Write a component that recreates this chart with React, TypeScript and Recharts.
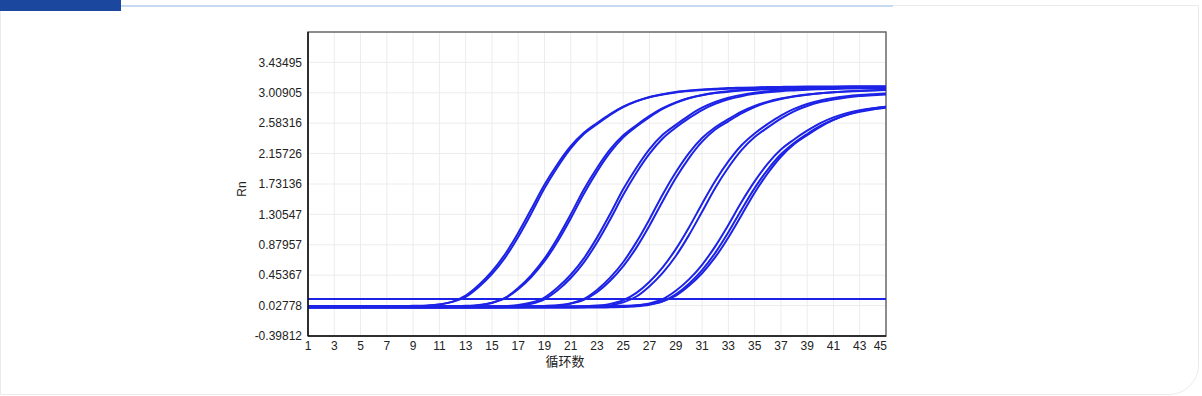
import React from "react";
import { LineChart, Line, XAxis, YAxis, CartesianGrid, ReferenceLine, ReferenceArea } from "recharts";

const cycles = [1, 2, 3, 4, 5, 6, 7, 8, 9, 10, 11, 12, 13, 14, 15, 16, 17, 18, 19, 20, 21, 22, 23, 24, 25, 26, 27, 28, 29, 30, 31, 32, 33, 34, 35, 36, 37, 38, 39, 40, 41, 42, 43, 44, 45];
const xTicks = [1, 3, 5, 7, 9, 11, 13, 15, 17, 19, 21, 23, 25, 27, 29, 31, 33, 35, 37, 39, 41, 43, 45];
const yTicks = [-0.39812, 0.02778, 0.45367, 0.87957, 1.30547, 1.73136, 2.15726, 2.58316, 3.00905, 3.43495];
const yTickLabels = ["-0.39812", "0.02778", "0.45367", "0.87957", "1.30547", "1.73136", "2.15726", "2.58316", "3.00905", "3.43495"];
const yMin = -0.39812;
const yMax = 3.86085;
const threshold = 0.12;

const a1 = [0.010, 0.010, 0.010, 0.010, 0.010, 0.010, 0.010, 0.011, 0.016, 0.023, 0.042, 0.084, 0.168, 0.316, 0.506, 0.748, 1.046, 1.380, 1.720, 2.012, 2.260, 2.448, 2.586, 2.712, 2.816, 2.892, 2.948, 2.986, 3.014, 3.033, 3.047, 3.057, 3.066, 3.071, 3.076, 3.080, 3.083, 3.085, 3.087, 3.088, 3.089, 3.090, 3.090, 3.090, 3.090];
const a2 = [0.020, 0.020, 0.020, 0.020, 0.020, 0.020, 0.020, 0.020, 0.025, 0.030, 0.045, 0.080, 0.150, 0.290, 0.470, 0.700, 0.990, 1.320, 1.670, 1.970, 2.230, 2.430, 2.570, 2.700, 2.810, 2.890, 2.950, 2.990, 3.020, 3.040, 3.055, 3.065, 3.075, 3.080, 3.085, 3.090, 3.092, 3.095, 3.097, 3.098, 3.099, 3.100, 3.100, 3.100, 3.100];
const b1 = [0.005, 0.005, 0.005, 0.005, 0.005, 0.005, 0.005, 0.005, 0.005, 0.005, 0.005, 0.010, 0.015, 0.030, 0.065, 0.135, 0.275, 0.455, 0.685, 0.975, 1.305, 1.655, 1.955, 2.215, 2.415, 2.555, 2.685, 2.795, 2.875, 2.935, 2.975, 3.005, 3.025, 3.040, 3.050, 3.060, 3.065, 3.070, 3.075, 3.077, 3.080, 3.082, 3.083, 3.084, 3.085];
const b2 = [0.015, 0.015, 0.015, 0.015, 0.015, 0.015, 0.015, 0.015, 0.015, 0.015, 0.015, 0.019, 0.024, 0.037, 0.068, 0.131, 0.257, 0.429, 0.649, 0.927, 1.249, 1.595, 1.905, 2.173, 2.385, 2.537, 2.669, 2.783, 2.869, 2.933, 2.977, 3.009, 3.031, 3.047, 3.058, 3.068, 3.074, 3.079, 3.084, 3.087, 3.090, 3.092, 3.093, 3.094, 3.095];
const c1 = [0.010, 0.010, 0.010, 0.010, 0.010, 0.010, 0.010, 0.010, 0.010, 0.010, 0.010, 0.010, 0.010, 0.010, 0.015, 0.020, 0.035, 0.070, 0.140, 0.280, 0.460, 0.690, 0.980, 1.310, 1.660, 1.960, 2.220, 2.420, 2.560, 2.690, 2.800, 2.880, 2.940, 2.980, 3.010, 3.030, 3.045, 3.055, 3.065, 3.070, 3.075, 3.080, 3.082, 3.085, 3.087];
const c2 = [0.000, 0.000, 0.000, 0.000, 0.000, 0.000, 0.000, 0.000, 0.000, 0.000, 0.000, 0.000, 0.000, 0.000, 0.004, 0.009, 0.022, 0.053, 0.116, 0.242, 0.414, 0.634, 0.912, 1.234, 1.580, 1.890, 2.158, 2.370, 2.522, 2.654, 2.768, 2.854, 2.918, 2.962, 2.994, 3.016, 3.032, 3.043, 3.053, 3.059, 3.064, 3.069, 3.072, 3.075, 3.077];
const d1 = [0.005, 0.005, 0.005, 0.005, 0.005, 0.005, 0.005, 0.005, 0.005, 0.005, 0.005, 0.005, 0.005, 0.005, 0.005, 0.005, 0.005, 0.009, 0.014, 0.027, 0.058, 0.121, 0.247, 0.419, 0.639, 0.917, 1.239, 1.585, 1.895, 2.163, 2.375, 2.527, 2.640, 2.745, 2.825, 2.885, 2.928, 2.960, 2.984, 3.002, 3.016, 3.027, 3.036, 3.043, 3.049];
const d2 = [0.015, 0.015, 0.015, 0.015, 0.015, 0.015, 0.015, 0.015, 0.015, 0.015, 0.015, 0.015, 0.015, 0.015, 0.015, 0.015, 0.015, 0.018, 0.023, 0.033, 0.058, 0.110, 0.215, 0.375, 0.580, 0.840, 1.150, 1.490, 1.815, 2.095, 2.325, 2.495, 2.610, 2.720, 2.810, 2.875, 2.922, 2.957, 2.983, 3.002, 3.017, 3.029, 3.038, 3.045, 3.051];
const e1 = [0.010, 0.010, 0.010, 0.010, 0.010, 0.010, 0.010, 0.010, 0.010, 0.010, 0.010, 0.010, 0.010, 0.010, 0.010, 0.010, 0.010, 0.010, 0.010, 0.010, 0.013, 0.018, 0.028, 0.052, 0.103, 0.206, 0.363, 0.564, 0.819, 1.122, 1.456, 1.774, 2.048, 2.274, 2.440, 2.573, 2.690, 2.783, 2.852, 2.901, 2.935, 2.960, 2.977, 2.989, 2.999];
const e2 = [0.000, 0.000, 0.000, 0.000, 0.000, 0.000, 0.000, 0.000, 0.000, 0.000, 0.000, 0.000, 0.000, 0.000, 0.000, 0.000, 0.000, 0.000, 0.000, 0.000, 0.001, 0.006, 0.013, 0.031, 0.073, 0.155, 0.300, 0.486, 0.723, 1.015, 1.343, 1.676, 1.962, 2.205, 2.389, 2.524, 2.648, 2.750, 2.824, 2.879, 2.916, 2.944, 2.963, 2.976, 2.986];
const f1 = [0.010, 0.010, 0.010, 0.010, 0.010, 0.010, 0.010, 0.010, 0.010, 0.010, 0.010, 0.010, 0.010, 0.010, 0.010, 0.010, 0.010, 0.010, 0.010, 0.010, 0.010, 0.010, 0.010, 0.014, 0.018, 0.030, 0.059, 0.118, 0.235, 0.395, 0.600, 0.858, 1.158, 1.479, 1.768, 2.017, 2.214, 2.355, 2.478, 2.584, 2.664, 2.724, 2.765, 2.794, 2.815];
const f2 = [0.000, 0.000, 0.000, 0.000, 0.000, 0.000, 0.000, 0.000, 0.000, 0.000, 0.000, 0.000, 0.000, 0.000, 0.000, 0.000, 0.000, 0.000, 0.000, 0.000, 0.000, 0.000, 0.000, 0.003, 0.007, 0.017, 0.040, 0.088, 0.186, 0.335, 0.525, 0.767, 1.056, 1.372, 1.674, 1.934, 2.148, 2.306, 2.432, 2.544, 2.632, 2.697, 2.744, 2.776, 2.799];
const f3 = [0.020, 0.020, 0.020, 0.020, 0.020, 0.020, 0.020, 0.020, 0.020, 0.020, 0.020, 0.020, 0.020, 0.020, 0.020, 0.020, 0.020, 0.020, 0.020, 0.020, 0.020, 0.020, 0.020, 0.021, 0.026, 0.032, 0.050, 0.089, 0.167, 0.305, 0.481, 0.706, 0.983, 1.294, 1.610, 1.882, 2.113, 2.287, 2.416, 2.533, 2.630, 2.700, 2.752, 2.788, 2.814];

const series: { key: string; values: number[] }[] = [
  { key: "a1", values: a1 },
  { key: "a2", values: a2 },
  { key: "b1", values: b1 },
  { key: "b2", values: b2 },
  { key: "c1", values: c1 },
  { key: "c2", values: c2 },
  { key: "d1", values: d1 },
  { key: "d2", values: d2 },
  { key: "e1", values: e1 },
  { key: "e2", values: e2 },
  { key: "f1", values: f1 },
  { key: "f2", values: f2 },
  { key: "f3", values: f3 },
];

const data = cycles.map((c, i) => {
  const row: Record<string, number> = { cycle: c };
  series.forEach((s) => {
    row[s.key] = s.values[i];
  });
  return row;
});

const LINE = "#1c22e6";
const FONT = "'Liberation Sans', Arial, sans-serif";

const XTick = (props: any) => {
  const { x, y, payload } = props;
  const last = payload.value === 45;
  return (
    <text
      x={last ? x + 1 : x}
      y={y}
      dy="0.71em"
      textAnchor={last ? "end" : "middle"}
      fontFamily={FONT}
      fontSize={12}
      fill="#222"
    >
      {payload.value}
    </text>
  );
};

const YTick = (props: any) => {
  const { x, y, payload } = props;
  const idx = yTicks.indexOf(payload.value);
  return (
    <text x={x} y={y} dy="0.355em" textAnchor="end" fontFamily={FONT} fontSize={12} fill="#222">
      {idx >= 0 ? yTickLabels[idx] : payload.value}
    </text>
  );
};

export default function App() {
  return (
    <div style={{ position: "absolute", left: 0, top: 0, width: 1202, height: 396, background: "#fff", overflow: "hidden" }}>
      <div
        style={{
          position: "absolute",
          left: 0,
          top: 5,
          width: 1197,
          height: 388,
          border: "1px solid #ebebeb",
          borderRadius: "0 0 30px 0",
          background: "#fff",
        }}
      />
      <div style={{ position: "absolute", left: 121, top: 5, width: 772, height: 2, background: "#c6daf3" }} />
      <div style={{ position: "absolute", left: 0, top: 0, width: 121, height: 11, background: "#1b489e" }} />

      <div style={{ position: "absolute", left: 0, top: 0 }}>
        <LineChart width={1202} height={396} data={data} margin={{ top: 32, right: 316, bottom: 30, left: 248 }}>
          <CartesianGrid stroke="#ececec" strokeWidth={1} />
          <XAxis
            dataKey="cycle"
            type="number"
            domain={[1, 45]}
            ticks={xTicks}
            interval={0}
            height={30}
            tickSize={3}
            tickMargin={2}
            tickLine={false}
            axisLine={{ stroke: "#111", strokeWidth: 1.5 }}
            tick={<XTick />}
            allowDataOverflow
          />
          <YAxis
            type="number"
            domain={[yMin, yMax]}
            ticks={yTicks}
            interval={0}
            width={60}
            tickSize={4}
            tickMargin={2}
            tickLine={false}
            axisLine={{ stroke: "#111", strokeWidth: 1.5 }}
            tick={<YTick />}
            allowDataOverflow
          />
          <ReferenceArea x1={1} x2={45} y1={yMin} y2={yMax} fill="none" stroke="#6a6a6a" strokeWidth={1.5} />
          {series.map((s) => (
            <Line
              key={s.key}
              dataKey={s.key}
              type="monotone"
              stroke={LINE}
              strokeWidth={2}
              dot={false}
              activeDot={false}
              isAnimationActive={false}
            />
          ))}
          <ReferenceLine y={threshold} stroke={LINE} strokeWidth={2} />
        </LineChart>
      </div>

      <div
        style={{
          position: "absolute",
          left: 242,
          top: 189,
          transform: "translate(-50%, -50%) rotate(-90deg)",
          fontFamily: FONT,
          fontSize: 12,
          lineHeight: 1,
          color: "#222",
          whiteSpace: "nowrap",
        }}
      >
        Rn
      </div>
      <div
        style={{
          position: "absolute",
          left: 565,
          top: 360,
          transform: "translate(-50%, -50%)",
          fontFamily: "'Noto Sans CJK SC', sans-serif",
          fontSize: 13,
          lineHeight: 1,
          color: "#222",
          whiteSpace: "nowrap",
        }}
      >
        循环数
      </div>
    </div>
  );
}
